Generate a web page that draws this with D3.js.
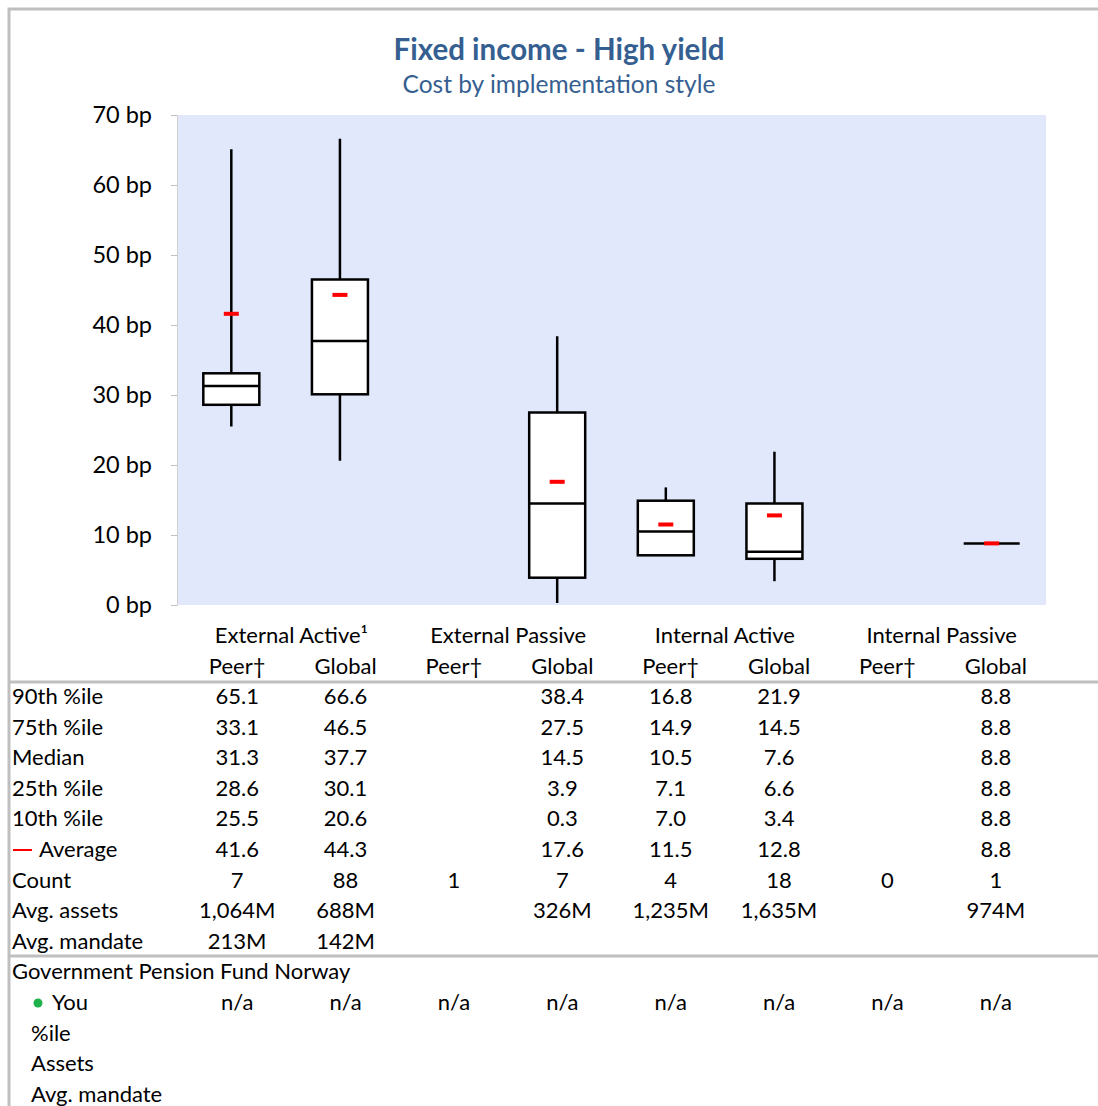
<!DOCTYPE html>
<html><head><meta charset="utf-8">
<script src="https://cdn.jsdelivr.net/npm/d3@7"></script>
<style>
html,body{margin:0;padding:0;background:#fff;}
text{font-family:Lato,"Open Sans",sans-serif;}
</style></head>
<body>
<svg id="chart" width="1098" height="1106"></svg>
<script>
const groups = ["External Active\u00b9","External Passive","Internal Active","Internal Passive"];
const subs = ["Peer\u2020","Global","Peer\u2020","Global","Peer\u2020","Global","Peer\u2020","Global"];
const p90 = [65.1,66.6,null,38.4,16.8,21.9,null,8.8];
const p75 = [33.1,46.5,null,27.5,14.9,14.5,null,8.8];
const med = [31.3,37.7,null,14.5,10.5,7.6,null,8.8];
const p25 = [28.6,30.1,null,3.9,7.1,6.6,null,8.8];
const p10 = [25.5,20.6,null,0.3,7.0,3.4,null,8.8];
const avg = [41.6,44.3,null,17.6,11.5,12.8,null,8.8];
const count = ["7","88","1","7","4","18","0","1"];
const assets = ["1,064M","688M","","326M","1,235M","1,635M","","974M"];
const mandate = ["213M","142M","","","","","",""];
const you = ["n/a","n/a","n/a","n/a","n/a","n/a","n/a","n/a"];
const yTicks = [0,10,20,30,40,50,60,70];

const svg = d3.select("#chart");
const W=1098,H=1106;
const plot={l:177,r:1046,t:115,b:605};
const x = d3.scaleBand().domain(d3.range(8)).range([plot.l,plot.r]);
const y = d3.scaleLinear().domain([0,70]).range([plot.b,plot.t]);
const tx = d3.scaleBand().domain(d3.range(8)).range([183,1050]);

// border
svg.append("path").attr("d",`M9,${H} V9 H${W}`).attr("fill","none").attr("stroke","#bfbfbf").attr("stroke-width",3);

// title
svg.append("text").attr("x",559).attr("y",60).attr("text-anchor","middle").attr("font-size",29.5).attr("font-weight","bold").attr("fill","#365f91").text("Fixed income - High yield");
svg.append("text").attr("x",559).attr("y",93).attr("text-anchor","middle").attr("font-size",24.5).attr("fill","#365f91").text("Cost by implementation style");

// plot bg
svg.append("rect").attr("x",plot.l).attr("y",plot.t).attr("width",plot.r-plot.l).attr("height",plot.b-plot.t).attr("fill","#e1e8fc");

// y axis
const ax = svg.append("g").attr("transform",`translate(${plot.l},0)`)
  .call(d3.axisLeft(y).tickValues(yTicks).tickSize(6).tickPadding(19).tickFormat(d=>d+" bp"));
ax.select(".domain").attr("stroke","#d0d0d0");
ax.selectAll(".tick line").attr("stroke","#bfbfbf");
ax.selectAll(".tick text").attr("font-size",23.5).attr("fill","#000").attr("font-family","Lato,'Open Sans',sans-serif");

// boxes
const bw=56;
const g=svg.append("g");
d3.range(8).forEach(i=>{
  if(p90[i]==null) return;
  const cx=x(i)+x.bandwidth()/2;
  g.append("line").attr("x1",cx).attr("x2",cx).attr("y1",y(p90[i])).attr("y2",y(p10[i])).attr("stroke","#000").attr("stroke-width",2.5);
  g.append("rect").attr("x",cx-bw/2).attr("y",y(p75[i])).attr("width",bw).attr("height",Math.max(0,y(p25[i])-y(p75[i])))
    .attr("fill","#fff").attr("stroke","#000").attr("stroke-width",2.5);
  g.append("line").attr("x1",cx-bw/2).attr("x2",cx+bw/2).attr("y1",y(med[i])).attr("y2",y(med[i])).attr("stroke","#000").attr("stroke-width",2.5);
  g.append("rect").attr("x",cx-7.5).attr("y",y(avg[i])-2).attr("width",15).attr("height",4).attr("fill","#ff0000");
});

// table
const fs=22;
const groupX=[0,1,2,3].map(k=>(tx(2*k)+tx(2*k+1)+tx.bandwidth())/2);
groups.forEach((t,k)=>svg.append("text").attr("x",groupX[k]).attr("y",643).attr("text-anchor","middle").attr("font-size",fs).text(t));
subs.forEach((t,i)=>svg.append("text").attr("x",tx(i)+tx.bandwidth()/2).attr("y",674).attr("text-anchor","middle").attr("font-size",fs).text(t));

svg.append("line").attr("x1",9).attr("x2",W).attr("y1",682).attr("y2",682).attr("stroke","#bfbfbf").attr("stroke-width",3);
svg.append("line").attr("x1",9).attr("x2",W).attr("y1",956).attr("y2",956).attr("stroke","#bfbfbf").attr("stroke-width",3);

const fmt=v=>v==null?"":v.toFixed(1);
const rows=[
 ["90th %ile",p90.map(fmt)],
 ["75th %ile",p75.map(fmt)],
 ["Median",med.map(fmt)],
 ["25th %ile",p25.map(fmt)],
 ["10th %ile",p10.map(fmt)],
 ["Average",avg.map(fmt)],
 ["Count",count],
 ["Avg. assets",assets],
 ["Avg. mandate",mandate]
];
const rowY0=704, rowH=30.6;
rows.forEach((r,j)=>{
  const yy=rowY0+j*rowH;
  const lx = r[0]==="Average"?39:12;
  svg.append("text").attr("x",lx).attr("y",yy).attr("font-size",fs).text(r[0]);
  if(r[0]==="Average") svg.append("line").attr("x1",13).attr("x2",32).attr("y1",yy-7).attr("y2",yy-7).attr("stroke","#ff0000").attr("stroke-width",2);
  r[1].forEach((v,i)=>svg.append("text").attr("x",tx(i)+tx.bandwidth()/2).attr("y",yy).attr("text-anchor","middle").attr("font-size",fs).text(v));
});
const y2=rowY0+9*rowH;
svg.append("text").attr("x",12).attr("y",y2).attr("font-size",fs).text("Government Pension Fund Norway");
svg.append("circle").attr("cx",38).attr("cy",y2+rowH-7).attr("r",4.5).attr("fill","#1fb24a");
svg.append("text").attr("x",52).attr("y",y2+rowH).attr("font-size",fs).text("You");
you.forEach((v,i)=>svg.append("text").attr("x",tx(i)+tx.bandwidth()/2).attr("y",y2+rowH).attr("text-anchor","middle").attr("font-size",fs).text(v));
["%ile","Assets","Avg. mandate"].forEach((t,k)=>svg.append("text").attr("x",31).attr("y",y2+(k+2)*rowH).attr("font-size",fs).text(t));
</script>
</body></html>
